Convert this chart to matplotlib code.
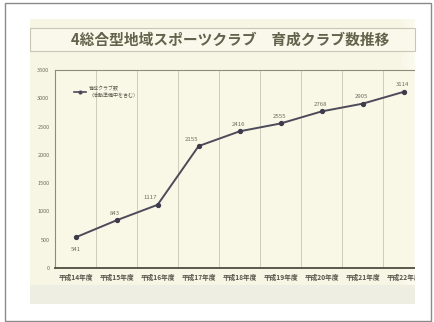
import matplotlib
matplotlib.use("Agg")
import matplotlib.pyplot as plt
from matplotlib.patches import Rectangle
from matplotlib.lines import Line2D

plt.rcParams['font.family'] = ['Noto Sans CJK JP', 'DejaVu Sans']

# 育成クラブ数（活動準備中を含む）
years = ["平成14年度", "平成15年度", "平成16年度", "平成17年度", "平成18年度",
         "平成19年度", "平成20年度", "平成21年度", "平成22年度"]
clubs = [541, 843, 1117, 2155, 2416, 2555, 2768, 2905, 3114]
yticks = [0, 500, 1000, 1500, 2000, 2500, 3000, 3500]

title = "4総合型地域スポーツクラブ　育成クラブ数推移"
legend_lines = ["育成クラブ数", "（活動準備中を含む）"]

W, H = 434, 322
fig = plt.figure(figsize=(W / 100, H / 100), dpi=100)
fig.patch.set_facecolor("white")


def fx(px):
    return px / W


def fy(py):
    return 1 - py / H


# outer frame
fig.patches.append(Rectangle((fx(5), fy(321)), fx(431) - fx(5), fy(3) - fy(321),
                             transform=fig.transFigure, facecolor="white",
                             edgecolor="#8a8a8a", linewidth=1.0, zorder=0))
# sheet of paper
paper = Rectangle((fx(30), fy(304)), fx(415) - fx(30), fy(19) - fy(304),
                  transform=fig.transFigure, facecolor="#f7f5e3",
                  edgecolor="none", zorder=0.5)
fig.patches.append(paper)
# paper fades towards white along its right edge
steps = 8
for k in range(steps):
    x0 = 398 + k * 17 / steps
    fig.patches.append(Rectangle((fx(x0), fy(304)), fx(17 / steps), fy(19) - fy(304),
                                 transform=fig.transFigure, facecolor="#fcfcf4",
                                 alpha=(k + 1) / steps * 0.8,
                                 edgecolor="none", zorder=0.6))
# greyer lower margin of the sheet
fig.patches.append(Rectangle((fx(30), fy(304)), fx(415) - fx(30), fy(285) - fy(304),
                             transform=fig.transFigure, facecolor="#efeee3",
                             edgecolor="none", zorder=0.6))

# title box
fig.patches.append(Rectangle((fx(30), fy(51)), fx(415) - fx(30), fy(28) - fy(51),
                             transform=fig.transFigure, facecolor="#f9f8ea",
                             edgecolor="#c9c7b4", linewidth=0.8, zorder=0.7))
fig.text(fx(230), fy(40), title, ha="center", va="center", fontsize=10.6,
         fontweight="bold", color="#64624c")

# plot area
ax = fig.add_axes([fx(55), fy(268), fx(414) - fx(55), fy(70) - fy(268)])
ax.set_facecolor("#f9f7e6")
ax.set_zorder(1)

x = list(range(len(years)))
ax.plot(x, clubs, color="#4d4a5a", linewidth=1.4, marker="o", markersize=2.8,
        markerfacecolor="#3e3b4c", markeredgecolor="#3e3b4c", zorder=3)

for i, v in enumerate(clubs):
    if i == 0:
        off = (0, -9)
    elif i in (2, 3):
        off = (-5, 5)
    else:
        off = (-1, 5)
    ax.annotate(f"{v}", (i, v), xytext=off, textcoords="offset points",
                ha="center", va="center", fontsize=4.3, color="#6e6c58")

ax.set_xlim(-0.5, 8.25)
ax.set_ylim(0, 3500)
ax.set_yticks(yticks)
ax.set_yticklabels([str(t) for t in yticks], fontsize=4, color="#6e6d62")
ax.set_xticks(x)
ax.set_xticklabels(years, fontsize=4.8, fontweight="bold", color="#55544a")
ax.tick_params(length=0, pad=4)
for lab in ax.get_xticklabels():
    lab.set_clip_path(paper)

# vertical separators between categories
for b in [i + 0.5 for i in range(len(years))]:
    ax.axvline(b, color="#cfcdb9", linewidth=0.7, zorder=1)

for side in ("left", "top"):
    ax.spines[side].set_color("#8d8b7a")
    ax.spines[side].set_linewidth(0.8)
ax.spines["right"].set_visible(False)
ax.spines["bottom"].set_color("#5a584b")
ax.spines["bottom"].set_linewidth(1.4)

# legend
handle = Line2D([], [], color="#4d4a5a", linewidth=1.2, marker="o",
                markersize=2, markerfacecolor="#3e3b4c")
leg = ax.legend([handle], [legend_lines[0] + "\n" + legend_lines[1]],
                loc="upper left", bbox_to_anchor=(0.04, 0.94), frameon=False,
                fontsize=3.6, handlelength=2.5, handletextpad=0.5,
                labelcolor="#5a594c")

fig.savefig("out.png", dpi=100)
